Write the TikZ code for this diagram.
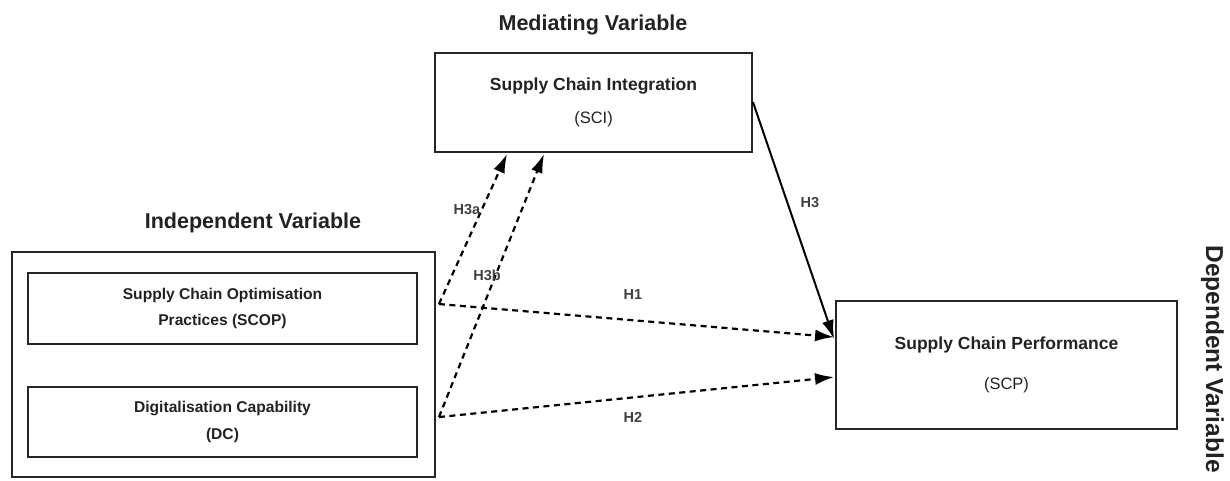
\documentclass[tikz,border=0pt]{standalone}
\usepackage{fontspec}
\setmainfont{Liberation Sans}
\usetikzlibrary{arrows.meta}
\definecolor{txt}{HTML}{222222}
\begin{document}
\begin{tikzpicture}[x=1pt,y=-1pt,
  box/.style={draw=black!85, line width=1.9pt, rectangle, inner sep=0pt, align=center, text=txt},
  title/.style={font=\fontsize{21.5}{26}\selectfont\bfseries, text=txt, inner sep=0pt},
  hlabel/.style={font=\fontsize{14.5}{16}\selectfont\bfseries, text=black!75, inner sep=0pt},
  dasharrow/.style={line width=2.2pt, dash pattern=on 6pt off 4.5pt, -{Latex[length=19pt,width=12pt]}},
  solidarrow/.style={line width=2pt, -{Latex[length=19pt,width=12pt]}}
]
\useasboundingbox (0,0) rectangle (1230,480);

% titles
\node[title] (tmed) at (593,25) {Mediating Variable};
\node[title] (tind) at (253,223) {Independent Variable};
\node[font=\fontsize{24.5}{28}\selectfont\bfseries, text=txt, inner sep=0pt, rotate=-90, anchor=base] (tdep) at (1206,359) {Dependent Variable};

% boxes
\node[box, minimum width=317pt, minimum height=99pt,
      font=\fontsize{17.5}{21}\selectfont] (sci) at (593.5,102.5)
  {\textbf{Supply Chain Integration}\\[12pt]{\fontsize{16.5}{20}\selectfont (SCI)}};

\node[box, minimum width=423pt, minimum height=225pt] (ind) at (223.5,364.5) {};

\node[box, minimum width=389pt, minimum height=71pt,
      font=\fontsize{15.6}{26}\selectfont\bfseries] (scop) at (222.5,308.5)
  {Supply Chain Optimisation\\Practices (SCOP)};

\node[box, minimum width=389pt, minimum height=70pt,
      font=\fontsize{15.6}{27}\selectfont\bfseries] (dc) at (222.5,422)
  {Digitalisation Capability\\(DC)};

\node[box, minimum width=341pt, minimum height=128pt,
      font=\fontsize{17.5}{21}\selectfont] (scp) at (1006.5,365)
  {\textbf{Supply Chain Performance}\\[19pt]{\fontsize{16.5}{20}\selectfont (SCP)}};

% connectors
\coordinate (s1) at ([xshift=3pt,yshift=-53pt]ind.north east);
\coordinate (s2) at ([xshift=3pt,yshift=-166pt]ind.north east);

\draw[dasharrow] (s1) -- ([xshift=73pt,yshift=-1pt]sci.south west);
\draw[dasharrow] (s2) -- ([xshift=110pt,yshift=-1pt]sci.south west);
\draw[dasharrow] (s1) -- ([xshift=-1pt,yshift=-37pt]scp.north west);
\draw[dasharrow] (s2) -- ([xshift=-1pt,yshift=-77pt]scp.north west);
\draw[solidarrow] ([yshift=-50pt]sci.north east) -- ([xshift=-1pt,yshift=-39pt]scp.north west);

% labels
\node[hlabel] (lh3a) at (467,210) {H3a};
\node[hlabel] (lh3b) at (487,275) {H3b};
\node[hlabel] (lh1) at (633,295) {H1};
\node[hlabel] (lh2) at (633,417) {H2};
\node[hlabel] (lh3) at (810,203) {H3};
\end{tikzpicture}
\end{document}
